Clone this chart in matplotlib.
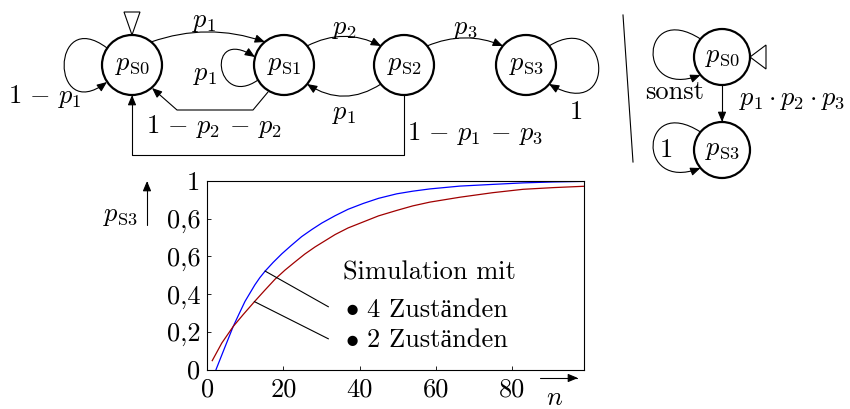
import matplotlib
matplotlib.use('Agg')
import matplotlib.pyplot as plt
from matplotlib.path import Path
from matplotlib.patches import FancyArrowPatch, Circle, Polygon
import numpy as np

plt.rcParams['font.family'] = ['cmr10', 'Liberation Serif']
plt.rcParams['mathtext.fontset'] = 'cm'
plt.rcParams['axes.formatter.use_mathtext'] = True

# values
n_4 = [2.3, 4.6, 6.8, 8.3, 9.9, 11.2, 12.5, 13.8, 15.2, 17.3, 19.6, 22, 24.8, 27.5, 30.1,
       33.6, 37, 41, 45, 49.8, 54, 58.5, 66.4, 75, 83, 91, 99]
p_4 = [0.0, 0.117, 0.228, 0.293, 0.361, 0.405, 0.449, 0.487, 0.522, 0.568, 0.614, 0.657,
       0.705, 0.743, 0.777, 0.816, 0.85, 0.881, 0.908, 0.932, 0.946, 0.958, 0.973, 0.982,
       0.99, 0.995, 0.998]
n_2 = [1.3, 3.8, 6.8, 9.5, 12.4, 15, 17.8, 20.4, 23, 25.6, 28.3, 33.6, 37, 41, 45, 49.8,
       54, 58.5, 66.4, 75, 83, 91, 99]
p_2 = [0.047, 0.14, 0.228, 0.293, 0.36, 0.418, 0.479, 0.527, 0.57, 0.612, 0.65, 0.716,
       0.751, 0.783, 0.815, 0.844, 0.868, 0.888, 0.914, 0.938, 0.956, 0.965, 0.972]
x_ticks = [0, 20, 40, 60, 80]
y_ticks = [0, 0.2, 0.4, 0.6, 0.8, 1]
y_ticklabels = ['0', '0,2', '0,4', '0,6', '0,6', '1']

W, H = 850, 409
fig = plt.figure(figsize=(W / 100, H / 100), dpi=100)

# ---- chart ----
L, R, T, B = 207.3, 584, 181, 369.5
cax = fig.add_axes([L / W, 1 - B / H, (R - L) / W, (B - T) / H])
cax.plot(n_4, p_4, color='#0000ff', lw=0.9)
cax.plot(n_2, p_2, color='#a00000', lw=0.9)
cax.set_xlim(0, 99)
cax.set_ylim(0, 1)
cax.set_xticks(x_ticks)
cax.set_xticklabels([str(v) for v in x_ticks])
cax.set_yticks(y_ticks)
cax.set_yticklabels(y_ticklabels)
cax.tick_params(direction='in', length=3, width=0.6, labelsize=19)
cax.tick_params(axis='x', pad=6)
cax.tick_params(axis='y', pad=5)
for s in cax.spines.values():
    s.set_linewidth(0.8)
# leader lines from curves to legend text
cax.plot([15.2, 31.8], [np.interp(15.2, n_4, p_4), 0.333], color='k', lw=0.8)
cax.plot([12.4, 31.8], [np.interp(12.4, n_2, p_2), 0.163], color='k', lw=0.8)

# ---- overlay in pixel coordinates ----
ax = fig.add_axes([0, 0, 1, 1])
ax.set_xlim(0, W)
ax.set_ylim(H, 0)
ax.axis('off')
ax.patch.set_visible(False)

FS = 19
MV, C3, C4, LT = Path.MOVETO, Path.CURVE3, Path.CURVE4, Path.LINETO


def edge(verts, codes, head=True):
    style = '-|>,head_length=0.6,head_width=0.25' if head else '-'
    a = FancyArrowPatch(path=Path(verts, codes), arrowstyle=style, mutation_scale=10,
                        lw=0.8, color='k', shrinkA=0, shrinkB=0)
    ax.add_patch(a)


def state(x, y, label, r=30):
    ax.add_patch(Circle((x, y), r, fill=False, lw=1.6, ec='k'))
    ax.text(x, y, label, ha='center', va='center', fontsize=FS)


def lab(x, y, s, **kw):
    ax.text(x, y, s, ha='center', va='center', fontsize=FS, **kw)


# left automaton
state(132, 65, r'$p_{\mathrm{S0}}$')
state(284, 65, r'$p_{\mathrm{S1}}$')
state(404, 65, r'$p_{\mathrm{S2}}$')
state(526, 65, r'$p_{\mathrm{S3}}$')
ax.add_patch(Polygon([(124, 12), (140, 12), (132, 35)], closed=True, fill=False, lw=0.8, ec='k'))

edge([(107, 48), (50, 5), (50, 125), (107, 82)], [MV, C4, C4, C4])
lab(45, 97, r'$1\,-\,p_1$')
edge([(151, 42), (208, 22), (265, 42)], [MV, C3, C3])
lab(204, 22, r'$p_1$')
edge([(258, 80), (215, 110), (205, 25), (255, 57)], [MV, C4, C4, C4])
lab(205, 75, r'$p_1$')
edge([(307, 46), (344, 27), (381, 46)], [MV, C3, C3])
lab(344, 29, r'$p_2$')
edge([(381, 84), (344, 108), (307, 84)], [MV, C3, C3])
lab(344, 114, r'$p_1$')
edge([(427, 46), (465, 30), (503, 46)], [MV, C3, C3])
lab(465, 29, r'$p_3$')
edge([(549, 46), (610, 8), (620, 125), (549, 84)], [MV, C4, C4, C4])
lab(576, 112, r'$1$')
edge([(268, 92), (253, 110), (177, 110), (152, 88)], [MV, LT, LT, LT])
lab(214, 127, r'$1\,-\,p_2\,-\,p_2$')
edge([(404, 95), (404, 155), (132, 155), (132, 95)], [MV, LT, LT, LT])
lab(475, 134, r'$1\,-\,p_1\,-\,p_3$')

# separator
ax.plot([623, 633], [15, 162], color='k', lw=0.8)

# right automaton
state(722, 57, r'$p_{\mathrm{S0}}$', r=28)
state(722, 150, r'$p_{\mathrm{S3}}$', r=28)
ax.add_patch(Polygon([(750, 57), (766, 45), (766, 69)], closed=True, fill=False, lw=0.8, ec='k'))
edge([(700.5, 39), (640, 0), (635, 100), (700.5, 75)], [MV, C4, C4, C4])
lab(675, 92, 'sonst')
edge([(722, 85), (722, 122)], [MV, LT])
lab(792, 100, r'$p_1\cdot p_2\cdot p_3$')
edge([(700.5, 132), (640, 93), (635, 193), (700.5, 168)], [MV, C4, C4, C4])
lab(666, 150, r'$1$')

# axis labels with arrows
edge([(147, 225), (147, 181)], [MV, LT])
lab(120, 216, r'$p_{\mathrm{S3}}$')
edge([(540, 378), (578, 378)], [MV, LT])
ax.text(555, 405, r'$n$', ha='center', va='baseline', fontsize=FS)

# legend text
ax.text(343, 280, 'Simulation mit', ha='left', va='baseline', fontsize=FS)
ax.text(352, 308, r'$\bullet$', ha='center', va='center', fontsize=FS)
ax.text(366.7, 316.7, '4 Zuständen', ha='left', va='baseline', fontsize=FS)
ax.text(352, 339, r'$\bullet$', ha='center', va='center', fontsize=FS)
ax.text(366.7, 346.7, '2 Zuständen', ha='left', va='baseline', fontsize=FS)

fig.savefig('out.png', dpi=100)
